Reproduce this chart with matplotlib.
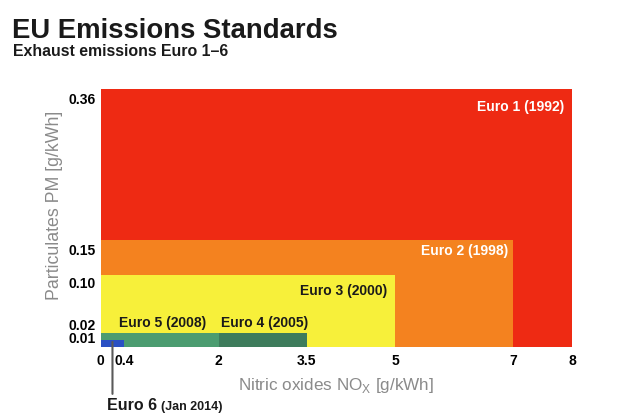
import matplotlib
matplotlib.use("Agg")
import matplotlib.pyplot as plt

plt.rcParams['font.family'] = ['Liberation Sans', 'DejaVu Sans']
plt.rcParams['mathtext.fontset'] = 'custom'
plt.rcParams['mathtext.rm'] = 'Liberation Sans'

# Limits per standard (largest first so smaller ones sit on top)
names = ['Euro 1', 'Euro 2', 'Euro 3', 'Euro 4', 'Euro 5', 'Euro 6']
years = ['1992', '1998', '2000', '2005', '2008', 'Jan 2014']
nox = [8, 7, 5, 3.5, 2, 0.4]          # g/kWh
pm = [0.36, 0.15, 0.10, 0.02, 0.02, 0.01]  # g/kWh
colors = ['#ee2a13', '#f4821f', '#f7f03a', '#3e7c5c', '#4b9c70', '#2a50c4']

xticks = [0, 0.4, 2, 3.5, 5, 7, 8]
xticklabels = ['0', '0.4', '2', '3.5', '5', '7', '8']
yticks = [0.36, 0.15, 0.10, 0.02, 0.01]
yticklabels = ['0.36', '0.15', '0.10', '0.02', '0.01']
ytick_shift = [-8, -8, -6, 4.5, 0.5]  # points, labels sit a bit off the edges

fig = plt.figure(figsize=(6.2, 4.19), dpi=100)
ax = fig.add_axes([0.1624, 0.1718, 0.7602, 0.6158])

for n, p, c in zip(nox, pm, colors):
    ax.bar(0, p, width=n, align='edge', color=c, linewidth=0)

ax.set_xlim(0, 8)
ax.set_ylim(0, 0.36)
for s in ax.spines.values():
    s.set_visible(False)

ax.set_xticks(xticks, xticklabels, fontsize=10, fontweight='bold')
ax.tick_params(axis='x', length=0, pad=5)
ax.set_yticks([])
for v, lab, dy in zip(yticks, yticklabels, ytick_shift):
    ax.annotate(lab, xy=(0, v), xycoords=('axes fraction', 'data'),
                xytext=(-3.5, dy), textcoords='offset points',
                ha='right', va='center', fontsize=10, fontweight='bold')

ax.set_xlabel('Nitric oxides NO$_{\\mathrm{X}}$ [g/kWh]', fontsize=12.3,
              color='#8a8a8a', labelpad=6)
ax.set_ylabel('Particulates PM [g/kWh]', fontsize=12.8, color='#8a8a8a')
ax.yaxis.set_label_coords(-0.08, 0.55)

# labels inside the boxes
lab_kw = dict(textcoords='offset points', fontsize=10, fontweight='bold', va='center')
ax.annotate(f'{names[0]} ({years[0]})', xy=(nox[0], pm[0]), xytext=(-5.8, -13),
            ha='right', color='white', **lab_kw)
ax.annotate(f'{names[1]} ({years[1]})', xy=(nox[1], pm[1]), xytext=(-3.6, -8.6),
            ha='right', color='white', **lab_kw)
ax.annotate(f'{names[2]} ({years[2]})', xy=(nox[2], pm[2]), xytext=(-5.8, -11.5),
            ha='right', color='#1a1a1a', **lab_kw)
ax.annotate(f'{names[3]} ({years[3]})', xy=(nox[4], pm[3]), xytext=(1.8, 7.2),
            ha='left', color='#1a1a1a', **lab_kw)
ax.annotate(f'{names[4]} ({years[4]})', xy=(0, pm[4]), xytext=(13, 7.2),
            ha='left', color='#1a1a1a', **lab_kw)

# Euro 6 callout below the axis
ax.annotate(names[5], xy=(nox[5] / 2, pm[5] * 0.7), xytext=(-3.6, -49),
            textcoords='offset points', ha='left', va='baseline',
            fontsize=11.5, fontweight='bold', color='#1a1a1a',
            annotation_clip=False,
            arrowprops=dict(arrowstyle='-', color='#5a5a5a', lw=1.5,
                            relpos=(0.1, 1.0), shrinkA=1, shrinkB=0))
ax.annotate(f'({years[5]})', xy=(nox[5] / 2, pm[5] * 0.7), xytext=(35.3, -49),
            textcoords='offset points', ha='left', va='baseline',
            fontsize=9, fontweight='bold', color='#1a1a1a',
            annotation_clip=False)

fig.text(0.019, 0.925, 'EU Emissions Standards', fontsize=19.8, fontweight='bold',
         va='center', color='#1a1a1a')
fig.text(0.021, 0.878, 'Exhaust emissions Euro 1\u20136', fontsize=11.4,
         fontweight='bold', va='center', color='#1a1a1a')

fig.savefig('out.png', dpi=100)
